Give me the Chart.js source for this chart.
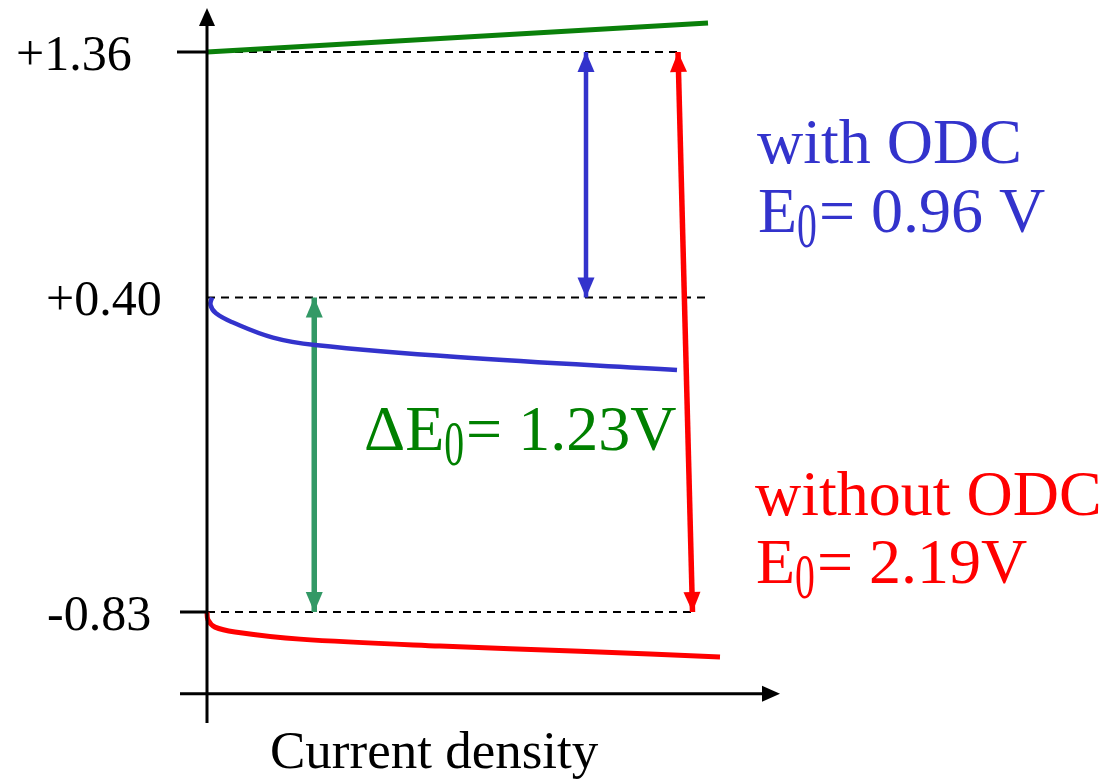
<!DOCTYPE html>
<html>
<head>
<script src="https://cdn.jsdelivr.net/npm/chart.js@4.4.1/dist/chart.umd.min.js"></script>
<style>
    body { margin: 0; background: #fff; }
    #chart { display: block; }
</style>
</head>
<body>
<canvas id="chart" width="1118" height="781"></canvas>
<script>
// potential levels (V) and their labels
const levels = [1.36, 0.40, -0.83];
const tickLabels = ['+1.36', '+0.40', '-0.83'];

// chlorine line (green)
const greenX = [0, 2.004];
const greenY = [1.36, 1.473];

// with ODC, cathode curve (blue)
const blueX = [0.02, 0.014, 0.036, 0.104, 0.264, 0.432, 1.0, 1.88];
const blueY = [0.40, 0.371, 0.338, 0.302, 0.243, 0.214, 0.167, 0.116];

// without ODC, cathode curve (red)
const redX = [0, 0.004, 0.032, 0.112, 0.372, 0.932, 1.492, 2.052];
const redY = [-0.83, -0.861, -0.889, -0.908, -0.936, -0.963, -0.983, -1.006];

// dashed guide lines: end of each level
const dashEnd = [1.884, 2.0, 1.94];

// double arrows [x at top, x at bottom], [y top, y bottom]
const blueArrowX = [1.516, 1.516];
const blueArrowY = [1.36, 0.40];
const greenArrowX = [0.429, 0.429];
const greenArrowY = [0.40, -0.83];
const redArrowX = [1.884, 1.942];
const redArrowY = [1.36, -0.83];

const xMin = -0.1, xMax = 2.3, yMin = -1.264, yMax = 1.532;
const xAxisLevel = -1.15;

const BLUE = 'rgb(51,51,204)';
const RED = 'rgb(255,0,0)';
const GREEN_TXT = 'rgb(0,128,0)';
const GREEN_ARR = 'rgb(51,153,102)';
const SERIF = '"Liberation Serif", "Times New Roman", serif';

function pts(xs, ys) {
    return xs.map((x, i) => ({ x: x, y: ys[i] }));
}

const datasets = [];
levels.forEach((lv, i) => {
    datasets.push({
        data: pts([0, dashEnd[i]], [lv, lv]),
        borderColor: '#000', borderWidth: 2.2, borderDash: [8, 6],
        showLine: true, order: 5
    });
});
datasets.push({ data: pts(greenX, greenY), borderColor: 'rgb(10,128,10)', borderWidth: 5, showLine: true, order: 1 });
datasets.push({ data: pts(blueX, blueY), borderColor: BLUE, borderWidth: 4.5, showLine: true, tension: 0.4, order: 1 });
datasets.push({ data: pts(redX, redY), borderColor: RED, borderWidth: 5, showLine: true, tension: 0.35, order: 1 });
datasets.push({ data: pts(blueArrowX, blueArrowY), borderColor: BLUE, borderWidth: 4.5, showLine: true, arrows: true, order: 2 });
datasets.push({ data: pts(greenArrowX, greenArrowY), borderColor: GREEN_ARR, borderWidth: 5.5, showLine: true, arrows: true, order: 2 });
datasets.push({ data: pts(redArrowX, redArrowY), borderColor: RED, borderWidth: 5.5, showLine: true, arrows: true, order: 2 });

function head(ctx, tip, from, color, len, half) {
    const dx = tip.x - from.x, dy = tip.y - from.y;
    const d = Math.hypot(dx, dy);
    const ux = dx / d, uy = dy / d;
    const bx = tip.x - ux * len, by = tip.y - uy * len;
    ctx.fillStyle = color;
    ctx.beginPath();
    ctx.moveTo(tip.x, tip.y);
    ctx.lineTo(bx - uy * half, by + ux * half);
    ctx.lineTo(bx + uy * half, by - ux * half);
    ctx.closePath();
    ctx.fill();
}

// text with a narrow, lowered "0" subscript
function subText(ctx, x, y, parts, color) {
    ctx.fillStyle = color;
    ctx.font = '64px ' + SERIF;
    ctx.textAlign = 'left';
    ctx.textBaseline = 'alphabetic';
    parts.forEach(p => {
        if (p.sub) {
            ctx.save();
            ctx.translate(x, y + 15);
            ctx.scale(0.62, 1);
            ctx.fillText(p.t, 0, 0);
            ctx.restore();
            x += ctx.measureText(p.t).width * 0.62 + 2;
        } else {
            ctx.fillText(p.t, x, y);
            x += ctx.measureText(p.t).width;
        }
    });
}

const extras = {
    id: 'extras',
    afterDatasetsDraw(chart) {
        const ctx = chart.ctx;
        const xs = chart.scales.x, ys = chart.scales.y;
        const X = v => xs.getPixelForValue(v), Y = v => ys.getPixelForValue(v);
        ctx.save();

        // arrowheads on the double arrows
        chart.data.datasets.forEach((ds, i) => {
            if (!ds.arrows) return;
            const p = chart.getDatasetMeta(i).data;
            const a = { x: p[0].x, y: p[0].y }, b = { x: p[p.length - 1].x, y: p[p.length - 1].y };
            head(ctx, a, b, ds.borderColor, 20, 8.5);
            head(ctx, b, a, ds.borderColor, 20, 8.5);
        });

        // axes
        ctx.strokeStyle = '#000';
        ctx.lineWidth = 3;
        ctx.beginPath();
        ctx.moveTo(X(0), Y(yMin));
        ctx.lineTo(X(0), Y(yMax) + 10);
        ctx.moveTo(X(-0.108), Y(xAxisLevel));
        ctx.lineTo(X(2.292) - 10, Y(xAxisLevel));
        // ticks
        ctx.moveTo(X(-0.12), Y(levels[0]));
        ctx.lineTo(X(0), Y(levels[0]));
        ctx.moveTo(X(-0.108), Y(levels[2]));
        ctx.lineTo(X(0), Y(levels[2]));
        ctx.stroke();
        head(ctx, { x: X(0), y: Y(yMax) }, { x: X(0), y: Y(0) }, '#000', 18, 8);
        head(ctx, { x: X(2.292), y: Y(xAxisLevel) }, { x: X(0), y: Y(xAxisLevel) }, '#000', 18, 8);

        // tick labels
        ctx.fillStyle = '#000';
        ctx.font = '50px ' + SERIF;
        ctx.textBaseline = 'alphabetic';
        ctx.textAlign = 'left';
        const labelLeft = [16, 46, 47];
        levels.forEach((lv, i) => {
            ctx.fillText(tickLabels[i], labelLeft[i], Y(lv) + 18);
        });

        // axis title
        ctx.font = '53px ' + SERIF;
        ctx.fillText('Current density', 270, 768);

        // annotations
        subText(ctx, 757, 163, [{ t: 'with ODC' }], BLUE);
        subText(ctx, 758, 232, [{ t: 'E' }, { t: '0', sub: true }, { t: '= 0.96 V' }], BLUE);
        subText(ctx, 364, 450, [{ t: '\u0394E' }, { t: '0', sub: true }, { t: '= 1.23V' }], GREEN_TXT);
        subText(ctx, 755, 515, [{ t: 'without ODC' }], RED);
        subText(ctx, 756, 583, [{ t: 'E' }, { t: '0', sub: true }, { t: '= 2.19V' }], RED);

        ctx.restore();
    }
};

new Chart(document.getElementById('chart'), {
    type: 'scatter',
    data: { datasets: datasets },
    options: {
        responsive: false,
        animation: false,
        layout: { padding: { left: 182, right: 336, top: 8, bottom: 58 } },
        scales: {
            x: { type: 'linear', min: xMin, max: xMax, display: false },
            y: { type: 'linear', min: yMin, max: yMax, display: false }
        },
        elements: { point: { radius: 0, hoverRadius: 0 } },
        plugins: { legend: { display: false }, tooltip: { enabled: false } }
    },
    plugins: [extras]
});
</script>
</body>
</html>
